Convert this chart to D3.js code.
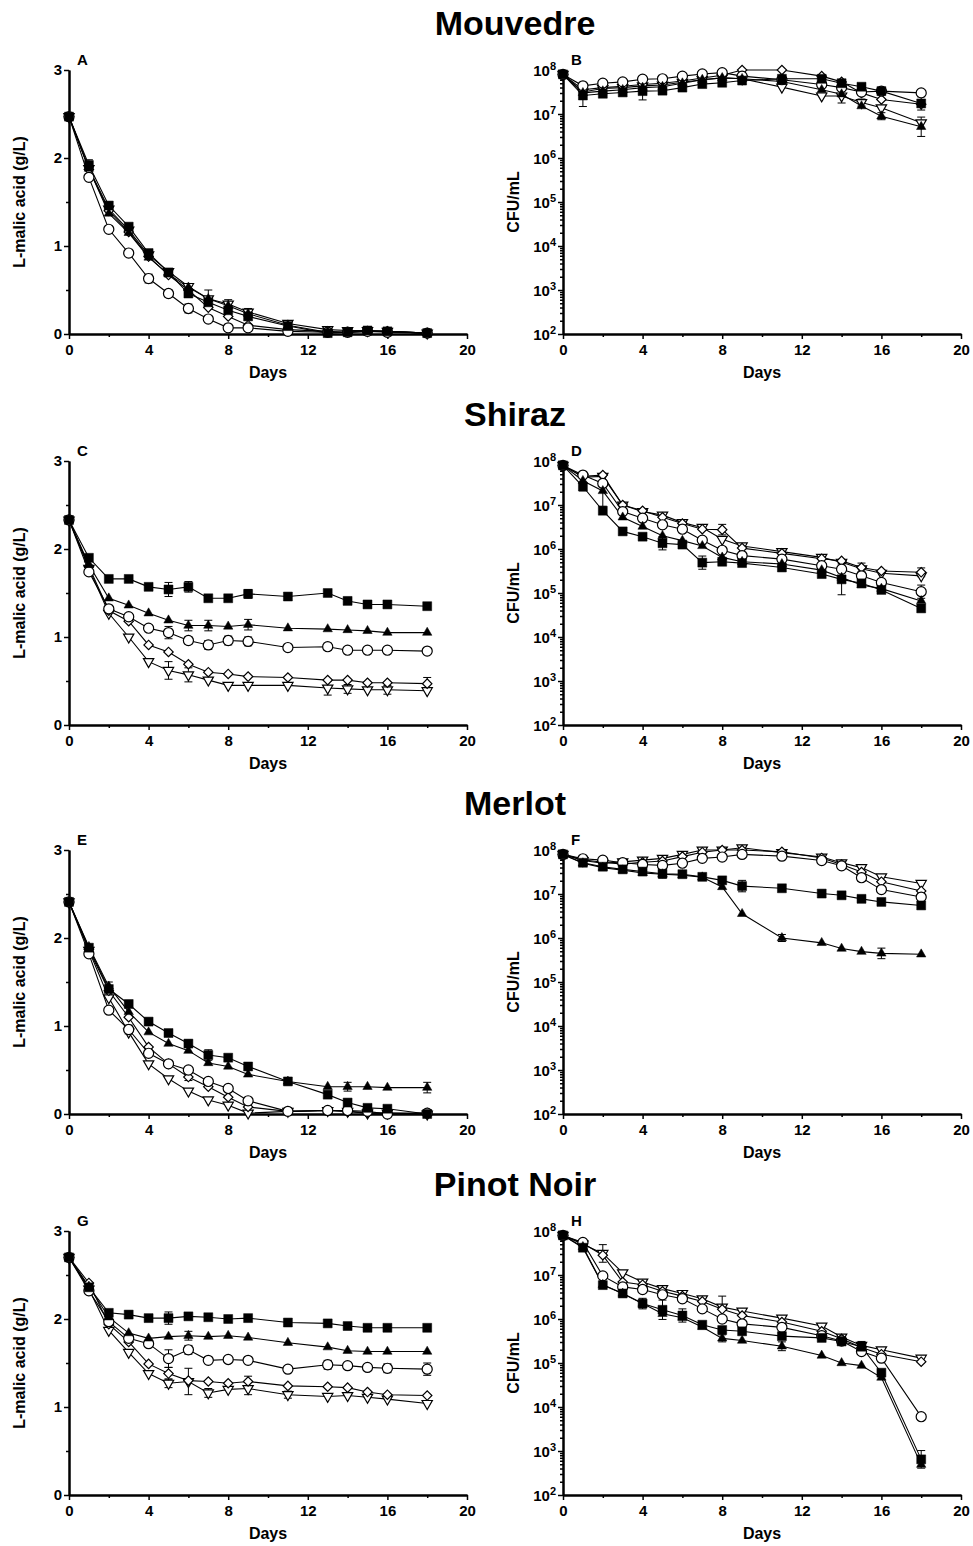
<!DOCTYPE html>
<html>
<head>
<meta charset="utf-8">
<script src="https://cdn.jsdelivr.net/npm/d3@7"></script>
<style>
  body { margin: 0; background: #fff; }
  text { font-family: Arial, "Liberation Sans", sans-serif; font-weight: bold; fill: #000; }
</style>
</head>
<body>
<svg id="chart" width="973" height="1546"></svg>
<script>
// sampling days
const days = [0, 1, 2, 3, 4, 5, 6, 7, 8, 9, 11, 13, 14, 15, 16, 18];

// series order: filled square, filled triangle, open circle, open diamond, open down-triangle
const seriesNames = ["square", "triangle", "circle", "diamond", "downTriangle"];

const wineTitles = ["Mouvedre", "Shiraz", "Merlot", "Pinot Noir"];
const panelLetters = ["A", "B", "C", "D", "E", "F", "G", "H"];

// L-malic acid (g/L)
const malicMouvedre = [
    [2.47, 1.92, 1.46, 1.22, 0.92, 0.70, 0.46, 0.36, 0.27, 0.20, 0.09, 0.01, 0.02, 0.04, 0.03, 0.01],
    [2.47, 1.88, 1.37, 1.15, 0.87, 0.68, 0.53, 0.40, 0.32, 0.23, 0.10, 0.02, 0.02, 0.03, 0.03, 0.01],
    [2.47, 1.78, 1.19, 0.92, 0.63, 0.46, 0.29, 0.17, 0.07, 0.07, 0.03, 0.02, 0.02, 0.03, 0.02, 0.01],
    [2.47, 1.87, 1.40, 1.16, 0.88, 0.67, 0.50, 0.30, 0.20, 0.10, 0.05, 0.03, 0.02, 0.03, 0.03, 0.01],
    [2.47, 1.88, 1.42, 1.18, 0.90, 0.71, 0.54, 0.40, 0.34, 0.25, 0.12, 0.05, 0.04, 0.04, 0.03, 0.01]
];
const malicShiraz = [
    [2.33, 1.90, 1.66, 1.66, 1.57, 1.54, 1.57, 1.44, 1.44, 1.49, 1.46, 1.50, 1.41, 1.37, 1.37, 1.35],
    [2.33, 1.82, 1.44, 1.36, 1.27, 1.19, 1.13, 1.13, 1.12, 1.14, 1.10, 1.09, 1.08, 1.07, 1.05, 1.05],
    [2.33, 1.74, 1.32, 1.23, 1.10, 1.05, 0.96, 0.91, 0.96, 0.95, 0.88, 0.89, 0.85, 0.85, 0.85, 0.84],
    [2.33, 1.80, 1.30, 1.18, 0.91, 0.83, 0.69, 0.60, 0.58, 0.55, 0.54, 0.51, 0.51, 0.48, 0.48, 0.47],
    [2.33, 1.78, 1.27, 1.00, 0.72, 0.62, 0.57, 0.51, 0.45, 0.45, 0.45, 0.42, 0.41, 0.40, 0.40, 0.39]
];
const malicMerlot = [
    [2.41, 1.89, 1.42, 1.25, 1.05, 0.92, 0.80, 0.67, 0.64, 0.54, 0.37, 0.22, 0.13, 0.07, 0.06, 0.00],
    [2.41, 1.90, 1.45, 1.16, 0.93, 0.80, 0.72, 0.58, 0.54, 0.45, 0.37, 0.31, 0.31, 0.31, 0.30, 0.30],
    [2.41, 1.82, 1.18, 0.96, 0.69, 0.57, 0.50, 0.37, 0.29, 0.15, 0.03, 0.04, 0.04, 0.03, 0.00, 0.01],
    [2.41, 1.87, 1.40, 1.10, 0.76, 0.57, 0.42, 0.31, 0.19, 0.08, 0.03, 0.04, 0.03, 0.01, 0.01, 0.01],
    [2.41, 1.86, 1.32, 0.93, 0.57, 0.40, 0.26, 0.16, 0.10, 0.01, 0.03, 0.04, 0.03, 0.01, 0.01, 0.00]
];
const malicPinot = [
    [2.70, 2.36, 2.07, 2.05, 2.01, 2.01, 2.03, 2.02, 2.00, 2.01, 1.96, 1.95, 1.92, 1.90, 1.90, 1.90],
    [2.70, 2.37, 2.02, 1.84, 1.78, 1.80, 1.81, 1.80, 1.81, 1.79, 1.73, 1.68, 1.64, 1.63, 1.63, 1.63],
    [2.70, 2.32, 1.97, 1.78, 1.72, 1.55, 1.65, 1.53, 1.54, 1.53, 1.43, 1.48, 1.47, 1.45, 1.44, 1.43],
    [2.70, 2.41, 1.94, 1.74, 1.49, 1.38, 1.30, 1.29, 1.27, 1.29, 1.24, 1.23, 1.22, 1.17, 1.14, 1.13],
    [2.70, 2.34, 1.87, 1.62, 1.38, 1.27, 1.29, 1.16, 1.20, 1.21, 1.14, 1.12, 1.13, 1.11, 1.09, 1.04]
];

// log10 CFU/mL
const cfuMouvedre = [
    [7.90, 7.42, 7.46, 7.49, 7.52, 7.53, 7.60, 7.68, 7.71, 7.76, 7.80, 7.80, 7.70, 7.62, 7.52, 7.24],
    [7.90, 7.48, 7.52, 7.55, 7.60, 7.62, 7.70, 7.78, 7.82, 7.80, 7.74, 7.55, 7.45, 7.18, 6.95, 6.71],
    [7.90, 7.64, 7.70, 7.73, 7.79, 7.80, 7.86, 7.91, 7.94, 7.86, 7.78, 7.67, 7.60, 7.50, 7.52, 7.48],
    [7.90, 7.55, 7.60, 7.63, 7.67, 7.70, 7.75, 7.82, 7.88, 8.00, 8.00, 7.86, 7.73, 7.48, 7.33, 7.22],
    [7.90, 7.50, 7.58, 7.60, 7.64, 7.66, 7.72, 7.78, 7.82, 7.80, 7.61, 7.41, 7.41, 7.26, 7.14, 6.80]
];
const cfuShiraz = [
    [7.90, 7.42, 6.87, 6.40, 6.28, 6.13, 6.10, 5.69, 5.71, 5.68, 5.58, 5.43, 5.31, 5.22, 5.07, 4.65],
    [7.90, 7.55, 7.32, 6.72, 6.51, 6.30, 6.19, 6.07, 5.81, 5.71, 5.66, 5.52, 5.35, 5.18, 5.10, 4.82],
    [7.90, 7.68, 7.49, 6.85, 6.70, 6.55, 6.45, 6.20, 5.97, 5.85, 5.77, 5.62, 5.54, 5.39, 5.24, 5.03],
    [7.90, 7.65, 7.68, 7.00, 6.87, 6.72, 6.58, 6.45, 6.44, 6.02, 5.90, 5.78, 5.73, 5.58, 5.50, 5.47],
    [7.90, 7.63, 7.65, 7.00, 6.85, 6.77, 6.60, 6.49, 6.22, 6.07, 5.94, 5.81, 5.70, 5.55, 5.45, 5.39]
];
const cfuMerlot = [
    [7.90, 7.71, 7.62, 7.56, 7.51, 7.46, 7.45, 7.39, 7.31, 7.18, 7.13, 7.01, 6.97, 6.89, 6.82, 6.74],
    [7.90, 7.70, 7.60, 7.54, 7.48, 7.45, 7.43, 7.38, 7.16, 6.55, 6.00, 5.89, 5.76, 5.69, 5.65, 5.63],
    [7.90, 7.80, 7.77, 7.71, 7.67, 7.65, 7.70, 7.81, 7.84, 7.90, 7.86, 7.76, 7.64, 7.37, 7.10, 6.93],
    [7.90, 7.78, 7.72, 7.68, 7.72, 7.75, 7.85, 7.95, 8.00, 8.00, 7.96, 7.82, 7.67, 7.50, 7.28, 7.07],
    [7.90, 7.76, 7.70, 7.73, 7.77, 7.81, 7.90, 8.00, 8.00, 8.05, 7.94, 7.84, 7.71, 7.60, 7.39, 7.24]
];
const cfuPinot = [
    [7.90, 7.62, 6.77, 6.58, 6.35, 6.21, 6.08, 5.87, 5.75, 5.72, 5.61, 5.57, 5.49, 5.37, 4.78, 2.81],
    [7.90, 7.64, 6.78, 6.58, 6.35, 6.12, 6.03, 5.82, 5.56, 5.51, 5.38, 5.17, 5.00, 4.94, 4.67, 2.69],
    [7.90, 7.74, 6.98, 6.73, 6.67, 6.55, 6.46, 6.23, 6.00, 5.89, 5.81, 5.62, 5.50, 5.26, 5.11, 3.78],
    [7.90, 7.72, 7.45, 6.84, 6.78, 6.63, 6.52, 6.40, 6.22, 6.08, 5.93, 5.72, 5.55, 5.35, 5.20, 5.03],
    [7.90, 7.70, 7.49, 7.05, 6.84, 6.69, 6.58, 6.46, 6.27, 6.18, 6.02, 5.84, 5.59, 5.40, 5.30, 5.11]
];

// error bars: [series index, day, +/- error] (log panels in log10 units)
const errA = [[0,1,0.06],[4,2,0.07],[1,7,0.1],[4,8,0.05],[4,9,0.04],[2,4,0.05],[2,5,0.04],[2,6,0.05]];
const errB = [[0,1,0.25],[0,4,0.2],[1,14,0.2],[1,16,0.08],[1,18,0.22],[0,18,0.15],[4,15,0.08]];
const errC = [[0,5,0.08],[0,6,0.06],[0,9,0.05],[0,14,0.04],[1,6,0.06],[1,7,0.06],[1,9,0.06],[2,5,0.07],
              [2,6,0.04],[2,7,0.05],[2,8,0.05],[2,9,0.05],[2,13,0.04],[4,5,0.1],[4,6,0.08],[4,13,0.08],
              [4,14,0.05],[3,18,0.07],[4,16,0.05]];
const errD = [[0,1,0.1],[1,2,0.35],[0,5,0.15],[0,7,0.15],[3,8,0.12],[0,14,0.35],[3,15,0.1],
              [2,18,0.15],[3,18,0.1],[0,9,0.07]];
const errE = [[0,6,0.04],[0,7,0.06],[1,14,0.05],[1,18,0.06],[0,9,0.03],[2,3,0.05],[3,6,0.04],[1,2,0.05]];
const errF = [[0,5,0.1],[0,9,0.13],[1,11,0.08],[1,16,0.12],[2,15,0.08],[4,4,0.05]];
const errG = [[0,5,0.07],[0,3,0.04],[2,5,0.1],[2,6,0.05],[1,6,0.05],[4,6,0.15],[4,5,0.05],[3,5,0.07],
              [4,7,0.05],[2,18,0.07],[3,9,0.06],[4,9,0.07],[2,13,0.05],[4,11,0.04],[2,16,0.05]];
const errH = [[4,2,0.2],[0,5,0.22],[0,6,0.15],[0,4,0.12],[4,8,0.25],[1,11,0.1],[0,18,0.2],[0,15,0.12],[1,8,0.08]];

const panels = [
    { data: malicMouvedre, err: errA, log: false },
    { data: cfuMouvedre,   err: errB, log: true },
    { data: malicShiraz,   err: errC, log: false },
    { data: cfuShiraz,     err: errD, log: true },
    { data: malicMerlot,   err: errE, log: false },
    { data: cfuMerlot,     err: errF, log: true },
    { data: malicPinot,    err: errG, log: false },
    { data: cfuPinot,      err: errH, log: true }
];

const svg = d3.select("#chart");

const colX = [69, 563];
const rowY = [70, 461, 850, 1231];
const plotW = 398;
const plotH = 264;

const symbols = {
    square: d3.symbol().type(d3.symbolSquare).size(80),
    triangle: d3.symbol().type(d3.symbolTriangle).size(38),
    circle: d3.symbol().type(d3.symbolCircle).size(80),
    diamond: d3.symbol().type(d3.symbolSquare).size(44),
    downTriangle: d3.symbol().type(d3.symbolTriangle).size(46)
};
const filled = { square: true, triangle: true, circle: false, diamond: false, downTriangle: false };
const rotation = { square: 0, triangle: 0, circle: 0, diamond: 45, downTriangle: 180 };

// titles
wineTitles.forEach((t, i) => {
    svg.append("text")
        .attr("x", 515)
        .attr("y", rowY[i] - 35)
        .attr("text-anchor", "middle")
        .attr("font-size", 34)
        .text(t);
});

function drawPanel(p, idx) {
    const col = idx % 2;
    const row = Math.floor(idx / 2);
    const g = svg.append("g")
        .attr("transform", `translate(${colX[col]}, ${rowY[row]})`);

    const x = d3.scaleLinear().domain([0, 20]).range([0, plotW]);
    const y = p.log
        ? d3.scaleLog().domain([1e2, 1e8]).range([plotH, 0])
        : d3.scaleLinear().domain([0, 3]).range([plotH, 0]);
    const val = v => p.log ? Math.pow(10, v) : v;

    // x axis
    const xAxis = g.append("g").attr("transform", `translate(0, ${plotH})`);
    xAxis.call(d3.axisBottom(x).tickValues([2, 6, 10, 14, 18]).tickSize(3).tickSizeOuter(0).tickFormat(""));
    xAxis.append("g").call(d3.axisBottom(x).tickValues([0, 4, 8, 12, 16, 20]).tickSize(5).tickSizeOuter(0).tickPadding(5));

    // y axis
    const yAxis = g.append("g");
    if (p.log) {
        const minor = [];
        for (let e = 2; e < 8; e++) for (let m = 2; m < 10; m++) minor.push(m * Math.pow(10, e));
        yAxis.call(d3.axisLeft(y).tickValues(minor).tickSize(3).tickSizeOuter(0).tickFormat(""));
        const major = yAxis.append("g")
            .call(d3.axisLeft(y).tickValues([1e2, 1e3, 1e4, 1e5, 1e6, 1e7, 1e8]).tickSize(5).tickSizeOuter(0).tickFormat(""));
        major.selectAll(".tick").append("text")
            .attr("x", -7)
            .attr("dy", "0.38em")
            .attr("text-anchor", "end")
            .each(function(d) {
                const t = d3.select(this);
                t.append("tspan").text("10");
                t.append("tspan").attr("dy", "-0.55em").attr("font-size", 11).text(Math.round(Math.log10(d)));
            });
    } else {
        yAxis.call(d3.axisLeft(y).tickValues([0.5, 1.5, 2.5]).tickSize(3).tickSizeOuter(0).tickFormat(""));
        yAxis.append("g").call(d3.axisLeft(y).tickValues([0, 1, 2, 3]).tickSize(5).tickSizeOuter(0).tickPadding(2).tickFormat(d3.format("d")));
    }

    g.selectAll(".domain").attr("stroke-width", 2).attr("stroke", "#000");
    g.selectAll(".tick line").attr("stroke-width", 1.5).attr("stroke", "#000");
    g.selectAll(".tick text")
        .attr("font-size", 15)
        .attr("font-family", "Arial, 'Liberation Sans', sans-serif")
        .attr("font-weight", "bold")
        .attr("fill", "#000");

    // labels
    g.append("text")
        .attr("transform", `translate(-44, ${plotH / 2}) rotate(-90)`)
        .attr("text-anchor", "middle")
        .attr("font-size", 16)
        .text(p.log ? "CFU/mL" : "L-malic acid (g/L)");

    g.append("text")
        .attr("x", plotW / 2)
        .attr("y", plotH + 44)
        .attr("text-anchor", "middle")
        .attr("font-size", 16)
        .text("Days");

    g.append("text")
        .attr("x", 8)
        .attr("y", -5)
        .attr("font-size", 15)
        .text(panelLetters[idx]);

    // lines
    const line = d3.line()
        .x((d, i) => x(days[i]))
        .y(d => y(val(d)));

    p.data.forEach(series => {
        g.append("path")
            .datum(series)
            .attr("fill", "none")
            .attr("stroke", "#000")
            .attr("stroke-width", 1.1)
            .attr("d", line);
    });

    // error bars
    p.err.forEach(([s, dayVal, e]) => {
        const i = days.indexOf(dayVal);
        const v = p.data[s][i];
        const cx = x(dayVal);
        const lo = p.log ? y(val(v - e)) : y(Math.max(0, v - e));
        const hi = y(val(v + e));
        const eb = g.append("g").attr("stroke", "#000").attr("stroke-width", 1);
        eb.append("line").attr("x1", cx).attr("x2", cx).attr("y1", lo).attr("y2", hi);
        eb.append("line").attr("x1", cx - 4).attr("x2", cx + 4).attr("y1", lo).attr("y2", lo);
        eb.append("line").attr("x1", cx - 4).attr("x2", cx + 4).attr("y1", hi).attr("y2", hi);
    });

    // markers, first series drawn last so it sits on top
    for (let s = p.data.length - 1; s >= 0; s--) {
        const name = seriesNames[s];
        g.append("g")
            .selectAll("path")
            .data(p.data[s])
            .join("path")
            .attr("d", symbols[name])
            .attr("transform", (d, i) => `translate(${x(days[i])}, ${y(val(d))}) rotate(${rotation[name]})`)
            .attr("fill", filled[name] ? "#000" : "#fff")
            .attr("stroke", "#000")
            .attr("stroke-width", filled[name] ? 0.5 : 1.2);
    }
}

panels.forEach(drawPanel);
</script>
</body>
</html>
